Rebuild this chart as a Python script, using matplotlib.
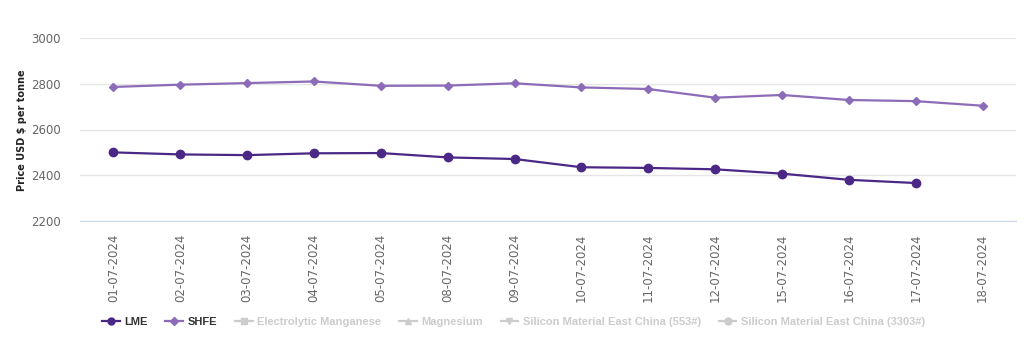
import matplotlib.pyplot as plt
from matplotlib.lines import Line2D

dates = ['01-07-2024', '02-07-2024', '03-07-2024', '04-07-2024', '05-07-2024',
         '08-07-2024', '09-07-2024', '10-07-2024', '11-07-2024', '12-07-2024',
         '15-07-2024', '16-07-2024', '17-07-2024', '18-07-2024']
lme = [2500, 2491, 2488, 2496, 2497, 2478, 2471, 2435, 2432, 2426, 2407, 2380, 2366]
shfe = [2786, 2796, 2803, 2810, 2791, 2792, 2802, 2784, 2777, 2739, 2751, 2729, 2724, 2704]
yticks = [2200, 2400, 2600, 2800, 3000]

lme_color = '#4b2886'
shfe_color = '#8c6cb8'
grey = '#cccccc'

fig = plt.figure(figsize=(10.29, 3.39), dpi=100)
ax = fig.add_axes([80 / 1029, 1 - 221 / 339, 936 / 1029, 183 / 339])

ax.plot(range(len(lme)), lme, color=lme_color, lw=1.6, marker='o', ms=6, zorder=3)
ax.plot(range(len(shfe)), shfe, color=shfe_color, lw=1.6, marker='D', ms=4, zorder=3)

ax.set_xlim(-0.5, len(dates) - 0.5)
ax.set_ylim(2200, 3000)
ax.set_yticks(yticks)
ax.set_xticks(range(len(dates)))
ax.set_xticklabels(dates, rotation=90, fontsize=8.5, color='#666666')
ax.tick_params(axis='y', labelsize=8.5, labelcolor='#666666', length=0, pad=14)
ax.tick_params(axis='x', length=0, pad=9)
ax.grid(axis='y', color='#e6e6e6', lw=1)
ax.set_axisbelow(True)
for s in ['top', 'right', 'left']:
    ax.spines[s].set_visible(False)
ax.spines['bottom'].set_color('#ccd6eb')

fig.text(22 / 1029, 1 - 130 / 339, 'Price USD $ per tonne', rotation=90,
         fontsize=7, fontweight='bold', ha='center', va='center', color='#222222')

handles = [
    Line2D([], [], color=lme_color, lw=1.6, marker='o', ms=5),
    Line2D([], [], color=shfe_color, lw=1.6, marker='D', ms=4),
    Line2D([], [], color=grey, lw=1.6, marker='s', ms=5),
    Line2D([], [], color=grey, lw=1.6, marker='^', ms=5),
    Line2D([], [], color=grey, lw=1.6, marker='v', ms=5),
    Line2D([], [], color=grey, lw=1.6, marker='o', ms=5),
]
labels = ['LME', 'SHFE', 'Electrolytic Manganese', 'Magnesium',
          'Silicon Material East China (553#)', 'Silicon Material East China (3303#)']
leg = fig.legend(handles, labels, loc='center left', bbox_to_anchor=(92 / 1029, 1 - 322 / 339),
                 ncol=6, frameon=False, handlelength=1.6, handletextpad=0.4,
                 columnspacing=1.6, prop={'family': 'Liberation Sans', 'size': 8,
                                          'weight': 'bold'})
for i, t in enumerate(leg.get_texts()):
    t.set_color('#333333' if i < 2 else grey)

fig.savefig('out.png', dpi=100)
